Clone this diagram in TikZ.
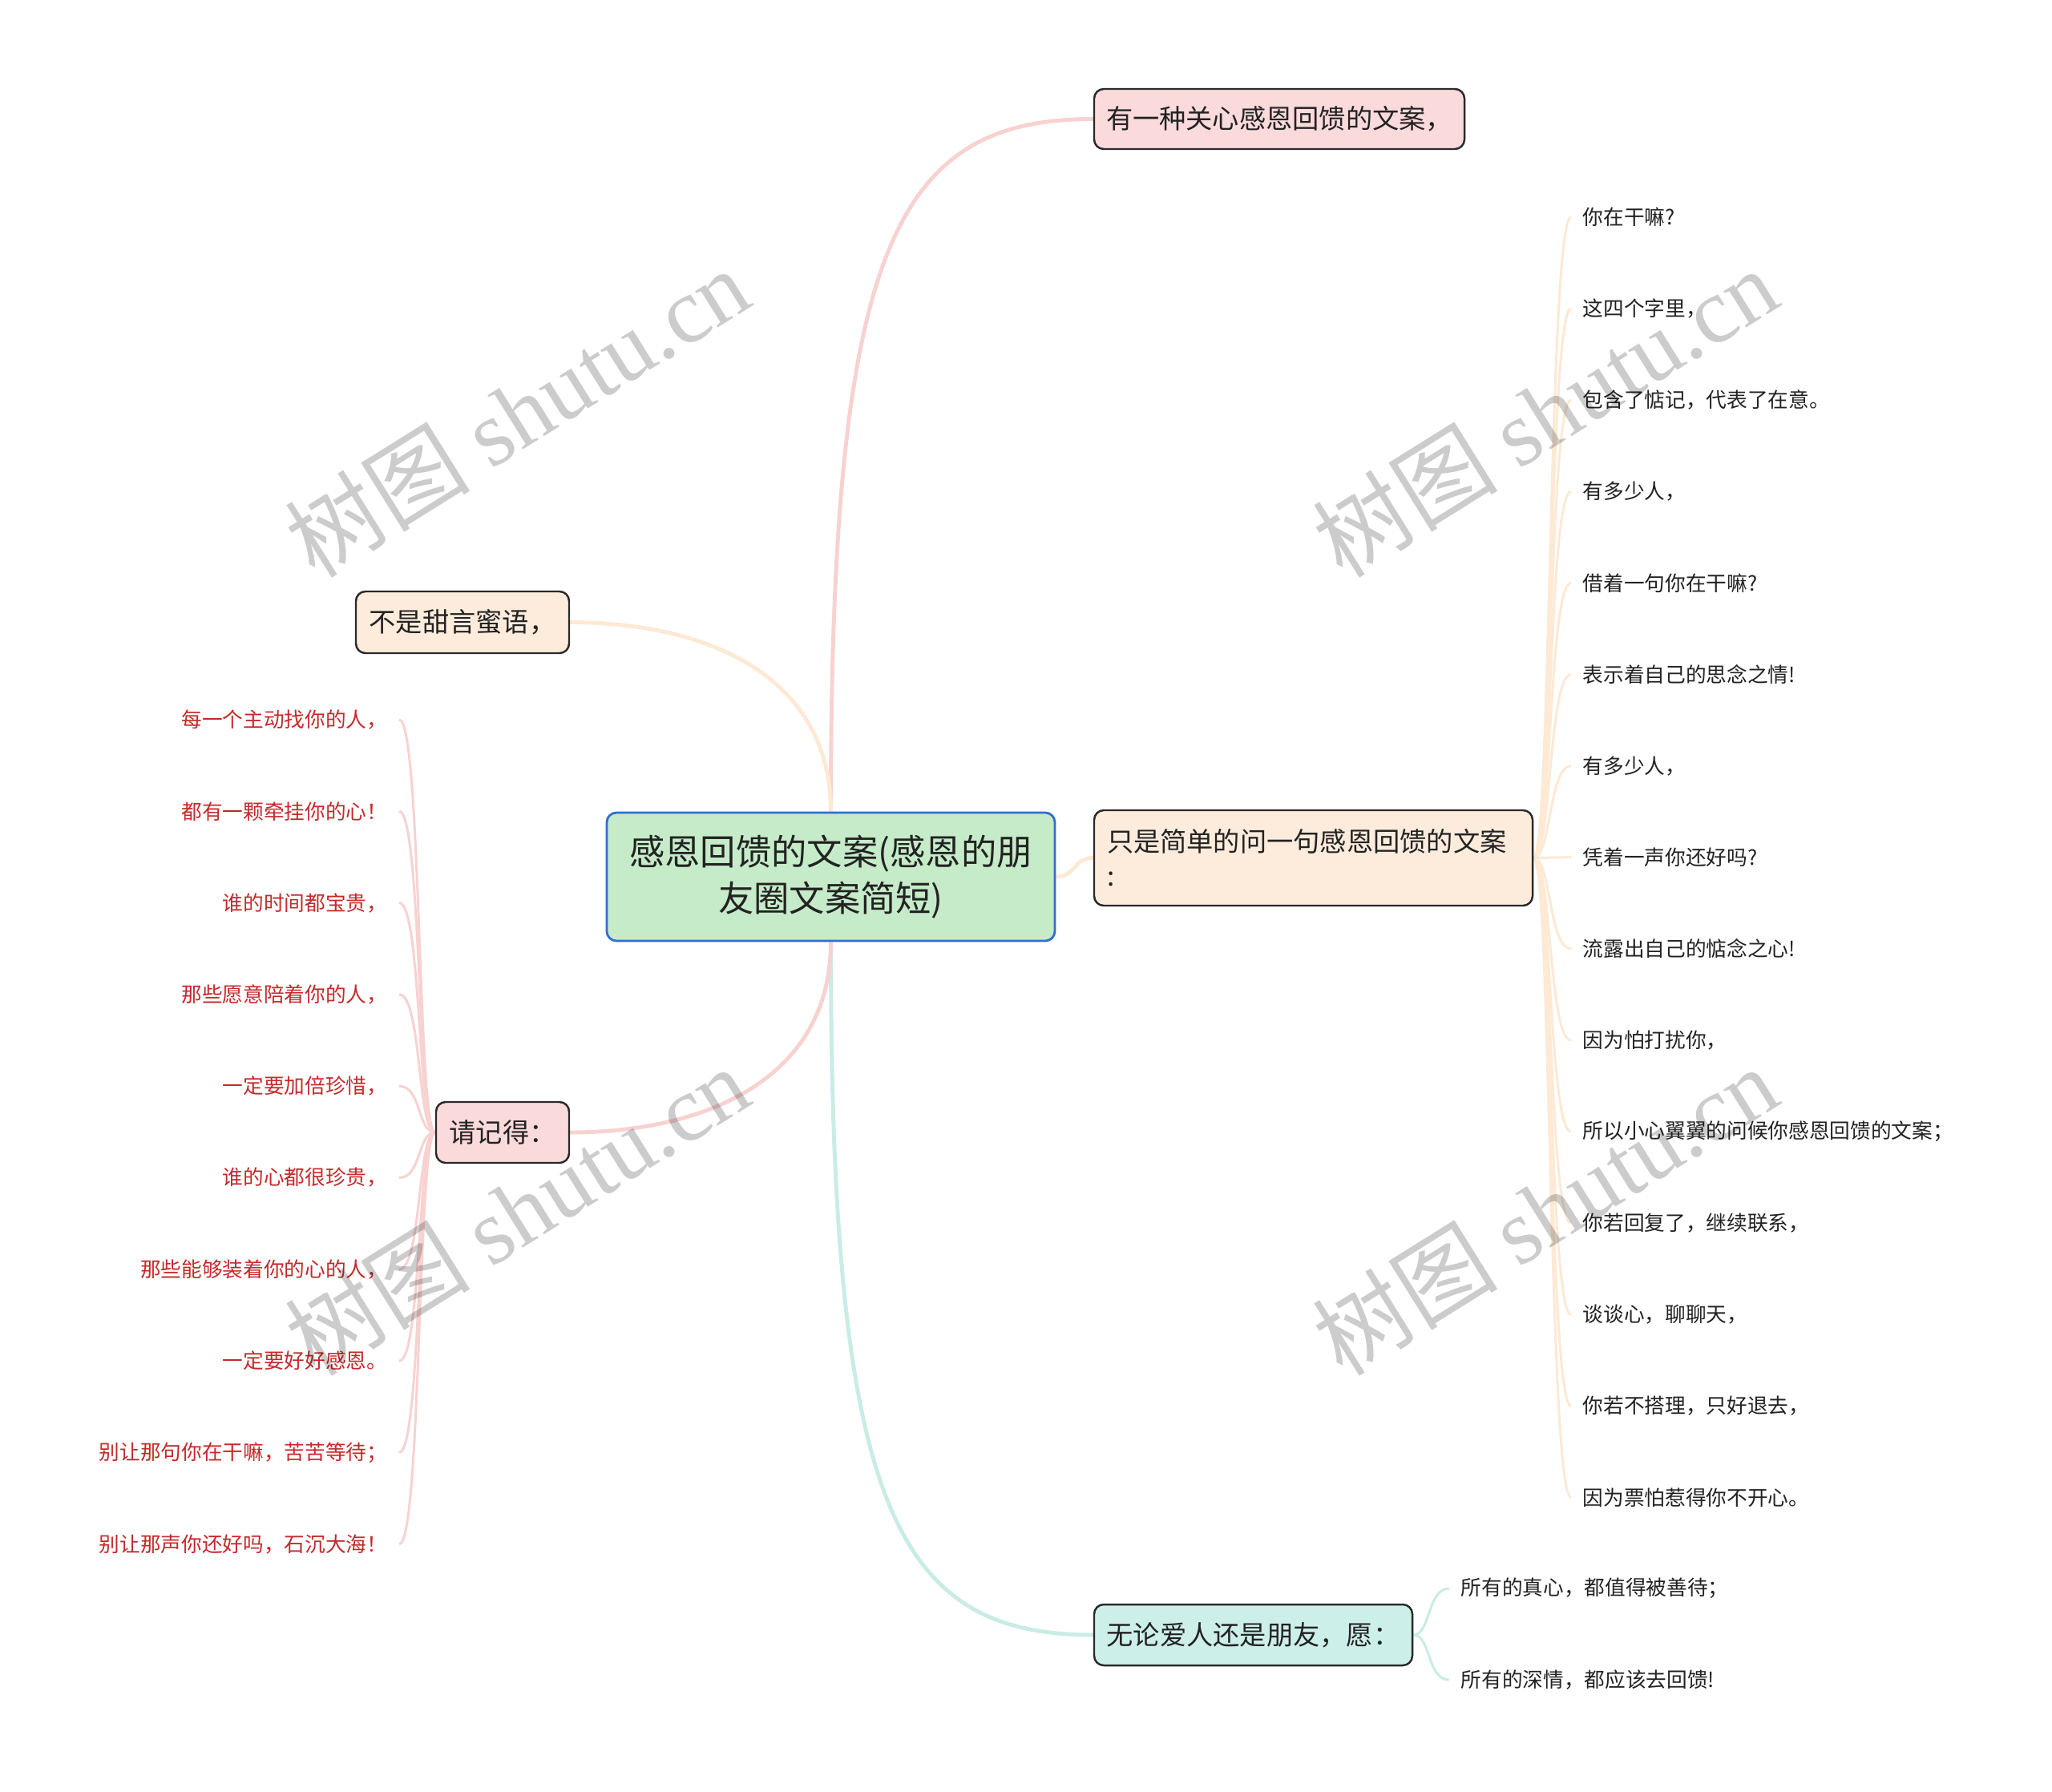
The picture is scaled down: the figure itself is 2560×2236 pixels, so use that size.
\documentclass[tikz,border=0pt]{standalone}
\usepackage{fontspec}
\setmainfont{Noto Sans CJK SC}
\newfontfamily\wmlatin{Liberation Serif}
\definecolor{rootfill}{HTML}{C6EBC9}
\definecolor{rootdraw}{HTML}{2F6FD0}
\definecolor{pinkfill}{HTML}{FADADB}
\definecolor{peachfill}{HTML}{FDECDC}
\definecolor{tealfill}{HTML}{CDEFE9}
\definecolor{pinkline}{HTML}{F7D2D1}
\definecolor{peachline}{HTML}{FDE9D4}
\definecolor{tealline}{HTML}{C9ECE6}
\definecolor{nodeborder}{HTML}{2A2A2A}
\definecolor{leafred}{HTML}{C42A2C}
\definecolor{leafdark}{HTML}{222222}
\pgfdeclarelayer{bgl}
\pgfdeclarelayer{lines}
\pgfsetlayers{bgl,lines,main}
\tikzset{
  x=0.01cm, y=-0.01cm,
  topic/.style={draw=nodeborder, line width=0.7pt, rounded corners=0.12cm, inner sep=0pt,
    font=\fontsize{9.45pt}{12.2pt}\selectfont, text=leafdark},
  rootbox/.style={draw=rootdraw, fill=rootfill, line width=0.8pt, rounded corners=0.12cm,
    inner sep=0pt, align=center, font=\fontsize{12.6pt}{16.3pt}\selectfont, text=leafdark},
  rleaf/.style={anchor=west, inner xsep=14*0.01cm, inner ysep=2pt, text=leafdark,
    font=\fontsize{7.3pt}{9pt}\selectfont},
  lleaf/.style={anchor=east, inner xsep=14*0.01cm, inner ysep=2pt, text=leafred,
    font=\fontsize{7.3pt}{9pt}\selectfont},
  mainline/.style={line width=1.4pt},
  leafline/.style={line width=0.85pt},
  wm/.style={text=black, text opacity=0.2, rotate=32, font=\fontsize{33pt}{36pt}\selectfont}
}
\begin{document}
\begin{tikzpicture}
\useasboundingbox (0,0) rectangle (2560,2236);
\begin{pgfonlayer}{bgl}
\fill[white] (0,0) rectangle (2560,2236);
\end{pgfonlayer}

% nodes
\node[rootbox, minimum width=559*0.01cm, minimum height=160*0.01cm] (root) at (1036.5,1094)
  {感恩回馈的文案(感恩的朋\\友圈文案简短)};
\node[topic, fill=pinkfill, minimum width=462*0.01cm, minimum height=75*0.01cm] (A) at (1596,148.5)
  {有一种关心感恩回馈的文案，};
\node[topic, fill=peachfill, minimum width=547*0.01cm, minimum height=119*0.01cm,
  text width=515*0.01cm, align=left] (B) at (1638.5,1070.5)
  {只是简单的问一句感恩回馈的文案\\:};
\node[topic, fill=tealfill, minimum width=397*0.01cm, minimum height=76*0.01cm] (C) at (1563.5,2040)
  {无论爱人还是朋友，愿：};
\node[topic, fill=peachfill, minimum width=266*0.01cm, minimum height=77*0.01cm] (D) at (577,776.5)
  {不是甜言蜜语，};
\node[topic, fill=pinkfill, minimum width=166*0.01cm, minimum height=76*0.01cm] (E) at (627,1413)
  {请记得：};

\begin{pgfonlayer}{lines}
% main branches
\draw[mainline, pinkline] (root.north) .. controls +(0,-700) and +(-250,0) .. (A.west);
\draw[mainline, peachline] (root.north) .. controls +(0,-170) and +(170,0) .. (D.east);
\draw[mainline, peachline] (root.east) .. controls +(25,0) and +(-25,0) .. (B.west);
\draw[mainline, tealline] (root.south) .. controls +(0,700) and +(-250,0) .. (C.west);
\draw[mainline, pinkline] (root.south) .. controls +(0,170) and +(170,0) .. (E.east);

% right leaves of B
\foreach \t [count=\i] in {你在干嘛?, 这四个字里，, 包含了惦记，代表了在意。, 有多少人，, 借着一句你在干嘛?,
  表示着自己的思念之情!, 有多少人，, 凭着一声你还好吗?, 流露出自己的惦念之心!, 因为怕打扰你，,
  所以小心翼翼的问候你感恩回馈的文案；, 你若回复了，继续联系，, 谈谈心，聊聊天，,
  你若不搭理，只好退去，, 因为票怕惹得你不开心。}{
  \node[rleaf] (r\i) at (1960,{271+(\i-1)*114.1}) {\t};
  \draw[leafline, peachline] (B.east) .. controls +(22,0) and +(-28,0) .. (r\i.west);
}

% left leaves of E
\foreach \t [count=\i] in {每一个主动找你的人，, 都有一颗牵挂你的心！, 谁的时间都宝贵，, 那些愿意陪着你的人，,
  一定要加倍珍惜，, 谁的心都很珍贵，, 那些能够装着你的心的人，, 一定要好好感恩。,
  别让那句你在干嘛，苦苦等待；, 别让那声你还好吗，石沉大海！}{
  \node[lleaf] (l\i) at (498,{898+(\i-1)*114.3}) {\t};
  \draw[leafline, pinkline] (E.west) .. controls +(-22,0) and +(28,0) .. (l\i.east);
}

% leaves of C
\node[rleaf] (c1) at (1808,1982) {所有的真心，都值得被善待；};
\node[rleaf] (c2) at (1808,2096) {所有的深情，都应该去回馈!};
\draw[leafline, tealline] (C.east) .. controls +(22,0) and +(-28,0) .. (c1.west);
\draw[leafline, tealline] (C.east) .. controls +(22,0) and +(-28,0) .. (c2.west);
\end{pgfonlayer}

% watermarks
\node[wm] (w1) at (645,514) {树图 {\wmlatin shutu.cn}};
\node[wm] (w2) at (1927,514) {树图 {\wmlatin shutu.cn}};
\node[wm] (w3) at (645,1510) {树图 {\wmlatin shutu.cn}};
\node[wm] (w4) at (1927,1510) {树图 {\wmlatin shutu.cn}};
\end{tikzpicture}
\end{document}
